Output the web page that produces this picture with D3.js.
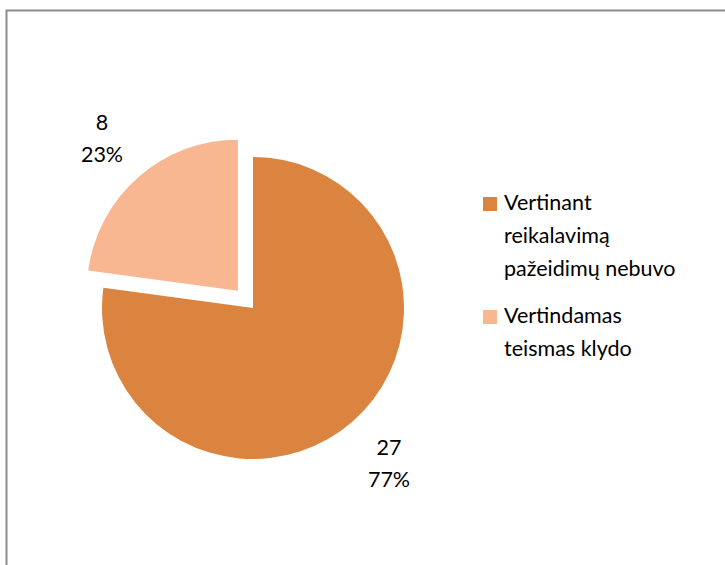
<!DOCTYPE html>
<html><head><meta charset="utf-8">
<script src="https://cdn.jsdelivr.net/npm/d3@7"></script>
<style>body{margin:0;background:#fff}svg{display:block}</style>
</head><body>
<script>
const categories = ["Vertinant reikalavimą pažeidimų nebuvo", "Vertindamas teismas klydo"];
const legendLines = [["Vertinant", "reikalavimą", "pažeidimų nebuvo"], ["Vertindamas", "teismas klydo"]];
const values = [27, 8];
const percentLabels = ["77%", "23%"];
const colors = ["#DA843F", "#F9B791"];

const W = 725, H = 565;
const svg = d3.select("body").append("svg").attr("width", W).attr("height", H);
const font = "Lato, 'Open Sans', sans-serif";

svg.append("rect").attr("x", 6.5).attr("y", 10.5).attr("width", 740).attr("height", 600)
  .attr("fill", "#fff").attr("stroke", "#8c8c8c").attr("stroke-width", 2);

const cx = 253, cy = 308, r = 151;
const pie = d3.pie().sort(null).value(d => d);
const arcs = pie(values);
const arc = d3.arc().innerRadius(0).outerRadius(r);
const explode = [0, 23];

const g = svg.append("g").attr("transform", `translate(${cx},${cy})`);
arcs.forEach((a, i) => {
  const mid = (a.startAngle + a.endAngle) / 2;
  const dx = Math.sin(mid) * explode[i], dy = -Math.cos(mid) * explode[i];
  g.append("path").attr("d", arc(a)).attr("fill", colors[i])
    .attr("transform", `translate(${dx},${dy})`);
});

// data labels
const labelPos = [[389, 455], [102, 130]];
arcs.forEach((a, i) => {
  const t = svg.append("text").attr("font-family", font).attr("font-size", 21.5)
    .attr("fill", "#000").attr("text-anchor", "middle");
  t.append("tspan").attr("x", labelPos[i][0]).attr("y", labelPos[i][1]).text(values[i]);
  t.append("tspan").attr("x", labelPos[i][0]).attr("y", labelPos[i][1] + 32).text(percentLabels[i]);
});

// legend
const legendY = [210, 323];
categories.forEach((c, i) => {
  svg.append("rect").attr("x", 483).attr("y", legendY[i] - 13).attr("width", 14).attr("height", 14).attr("fill", colors[i]);
  const t = svg.append("text").attr("font-family", font).attr("font-size", 21.5).attr("fill", "#000");
  legendLines[i].forEach((l, j) => {
    t.append("tspan").attr("x", 504).attr("y", legendY[i] + j * 33).text(l);
  });
});
</script>
</body></html>
